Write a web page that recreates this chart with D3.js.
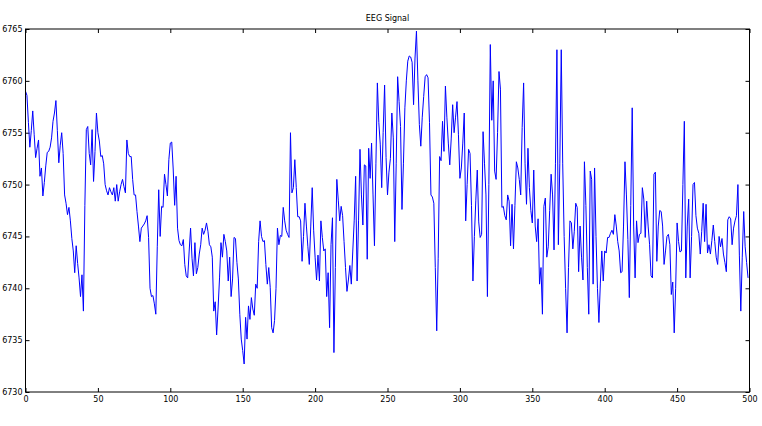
<!DOCTYPE html>
<html>
<head>
<meta charset="utf-8">
<script src="https://cdn.jsdelivr.net/npm/d3@7"></script>
<style>
  body { margin: 0; background: #fff; }
  text { font-family: "DejaVu Sans", sans-serif; }
</style>
</head>
<body>
<div id="chart"></div>
<script>
var width = 762,
	height = 426;

var margin = {top: 29, right: 12.5, bottom: 34, left: 25.5};

var title = "EEG Signal";
var xTicks = [0, 50, 100, 150, 200, 250, 300, 350, 400, 450, 500];
var yTicks = [6730, 6735, 6740, 6745, 6750, 6755, 6760, 6765];

// one value per sample
var signal = [
	6759.0, 6758.6, 6756.0, 6753.6, 6755.2, 6757.1, 6754.8, 6752.6, 6753.5, 6754.3,
	6750.8, 6751.6, 6748.9, 6750.2, 6751.8, 6753.1, 6753.2, 6753.6, 6754.5, 6756.1,
	6756.9, 6758.1, 6755.2, 6752.1, 6753.8, 6755.0, 6753.0, 6749.0, 6748.2, 6747.1,
	6747.8, 6746.5, 6744.8, 6743.6, 6741.5, 6744.1, 6742.4, 6741.0, 6739.2, 6741.3,
	6737.8, 6748.0, 6755.3, 6755.6, 6753.0, 6751.9, 6755.3, 6750.3, 6753.2, 6756.9,
	6755.0, 6754.2, 6752.7, 6752.8, 6752.0, 6750.0, 6749.4, 6749.0, 6749.7, 6749.3,
	6749.0, 6749.7, 6748.4, 6750.0, 6748.4, 6749.3, 6750.0, 6750.5, 6749.8, 6749.2,
	6754.3, 6753.0, 6752.7, 6752.7, 6750.5, 6749.0, 6749.0, 6747.4, 6746.0, 6744.5,
	6745.8, 6746.0, 6746.2, 6746.5, 6747.0, 6744.9, 6740.0, 6739.2, 6739.3, 6738.5,
	6737.5, 6744.0, 6749.5, 6745.0, 6747.9, 6747.8, 6751.0, 6750.0, 6748.9, 6752.4,
	6754.0, 6754.1, 6751.5, 6748.0, 6750.8, 6745.8, 6744.6, 6744.2, 6744.1, 6744.7,
	6742.3, 6741.2, 6741.0, 6743.5, 6745.8, 6742.9, 6741.2, 6744.4, 6741.4, 6742.0,
	6743.3, 6744.2, 6745.8, 6745.2, 6745.6, 6746.3, 6745.5, 6744.2, 6744.0, 6743.0,
	6737.8, 6738.7, 6735.5, 6738.1, 6741.0, 6744.4, 6743.0, 6745.2, 6744.5, 6743.6,
	6740.7, 6743.0, 6739.2, 6740.9, 6744.9, 6744.8, 6742.5, 6740.9, 6737.5, 6735.1,
	6734.0, 6732.7, 6737.2, 6735.1, 6738.3, 6737.0, 6739.1, 6738.0, 6737.4, 6740.4,
	6740.0, 6744.5, 6746.5, 6745.0, 6744.5, 6744.6, 6742.3, 6740.4, 6742.0, 6740.1,
	6736.2, 6735.7, 6736.9, 6740.0, 6745.8, 6744.2, 6745.1, 6745.0, 6747.8, 6746.5,
	6745.6, 6745.2, 6744.9, 6755.0, 6749.2, 6749.7, 6752.4, 6749.7, 6746.9, 6746.9,
	6746.5, 6742.6, 6745.0, 6748.2, 6746.0, 6744.0, 6742.3, 6746.0, 6749.7, 6745.6,
	6743.0, 6740.8, 6743.2, 6740.7, 6746.5, 6744.9, 6743.6, 6743.8, 6739.2, 6741.5,
	6736.2, 6744.2, 6746.8, 6733.8, 6742.0, 6750.5, 6748.5, 6746.5, 6747.9, 6747.0,
	6744.5, 6742.0, 6739.7, 6740.8, 6742.2, 6740.4, 6743.5, 6746.5, 6750.8, 6740.7,
	6746.5, 6753.4, 6749.0, 6746.1, 6751.9, 6751.8, 6742.8, 6753.5, 6750.6, 6754.0,
	6749.0, 6744.1, 6752.0, 6759.8, 6756.0, 6753.9, 6749.7, 6755.0, 6759.6, 6752.6,
	6749.0, 6751.2, 6752.5, 6756.9, 6754.5, 6744.5, 6752.0, 6760.4, 6758.0, 6755.6,
	6747.6, 6752.0, 6757.4, 6760.0, 6761.9, 6762.4, 6762.3, 6761.8, 6757.7, 6762.2,
	6764.8, 6760.0, 6755.8, 6753.7, 6756.5, 6758.5, 6760.4, 6760.6, 6760.3, 6756.0,
	6749.0, 6748.8, 6748.2, 6742.0, 6735.9, 6742.9, 6752.7, 6752.3, 6756.1, 6753.2,
	6759.5, 6756.5, 6754.0, 6751.9, 6754.4, 6757.7, 6755.0, 6756.5, 6758.0, 6754.8,
	6750.6, 6751.6, 6754.0, 6756.9, 6746.5, 6750.0, 6753.4, 6753.0, 6748.0, 6740.7,
	6745.0, 6748.5, 6751.4, 6746.4, 6744.9, 6745.2, 6755.1, 6752.0, 6749.0, 6739.2,
	6750.0, 6763.5, 6756.2, 6760.0, 6751.3, 6750.5, 6755.0, 6760.9, 6759.2, 6747.8,
	6747.9, 6747.0, 6746.6, 6749.0, 6748.4, 6744.1, 6748.1, 6743.8, 6748.0, 6752.2,
	6751.6, 6750.5, 6749.0, 6755.5, 6759.8, 6752.0, 6748.1, 6753.5, 6749.7, 6747.5,
	6746.3, 6751.4, 6746.0, 6744.5, 6746.7, 6740.4, 6742.0, 6737.5, 6747.9, 6748.7,
	6743.0, 6744.0, 6747.5, 6751.0, 6749.0, 6743.7, 6752.0, 6763.0, 6744.2, 6752.0,
	6763.0, 6752.0, 6745.0, 6740.0, 6735.7, 6742.0, 6746.5, 6746.3, 6743.8, 6745.5,
	6748.2, 6747.8, 6741.6, 6746.0, 6743.0, 6740.8, 6752.2, 6748.0, 6742.0, 6737.5,
	6751.3, 6750.5, 6740.4, 6751.6, 6745.0, 6740.0, 6736.7, 6740.5, 6743.6, 6740.7,
	6743.6, 6743.4, 6744.9, 6744.9, 6745.3, 6745.6, 6745.2, 6747.1, 6746.0, 6744.5,
	6743.6, 6741.5, 6741.6, 6746.0, 6752.2, 6749.0, 6744.7, 6739.1, 6748.0, 6757.4,
	6746.0, 6741.0, 6746.5, 6744.4, 6745.2, 6745.3, 6749.7, 6748.6, 6744.9, 6748.4,
	6746.0, 6744.2, 6741.2, 6741.0, 6751.0, 6751.2, 6742.6, 6746.0, 6747.5, 6747.4,
	6746.0, 6742.3, 6743.6, 6745.0, 6745.2, 6744.2, 6739.4, 6740.6, 6735.7, 6740.0,
	6746.3, 6744.5, 6743.5, 6743.6, 6750.0, 6756.1, 6741.0, 6746.0, 6748.6, 6741.0,
	6745.0, 6750.0, 6750.2, 6747.0, 6745.8, 6745.3, 6743.3, 6745.5, 6748.2, 6744.5,
	6748.1, 6743.4, 6744.2, 6743.3, 6744.6, 6746.1, 6744.5, 6743.0, 6742.3, 6745.0,
	6744.0, 6744.8, 6743.3, 6742.5, 6741.6, 6746.6, 6746.9, 6746.7, 6744.2, 6745.8,
	6746.5, 6747.0, 6750.0, 6743.2, 6737.8, 6743.0, 6747.4, 6744.0, 6742.5, 6741.0
];

var innerW = width - margin.left - margin.right,
	innerH = height - margin.top - margin.bottom;

var svg = d3.select("#chart")
	.append("svg")
		.attr("width", width)
		.attr("height", height)
		.style("background-color", "#ffffff")

var g = svg.append("g")
	.attr("transform", "translate(" + margin.left + "," + margin.top + ")")

var x = d3.scaleLinear()
	.domain([0, 500])
	.range([0, innerW])

var y = d3.scaleLinear()
	.domain([6730, 6765])
	.range([innerH, 0])

// ticks point inward, like the classic matplotlib look
var xAxis = d3.axisBottom(x).tickValues(xTicks).tickSize(-4).tickPadding(4).tickFormat(d3.format("d"));
var yAxis = d3.axisLeft(y).tickValues(yTicks).tickSize(-4).tickPadding(3).tickFormat(d3.format("d"));

g.append("g")
	.attr("transform", "translate(0," + innerH + ")")
	.call(xAxis)

g.append("g")
	.call(yAxis)

g.append("g")
	.call(d3.axisTop(x).tickValues(xTicks).tickSize(-4).tickFormat(""))

g.append("g")
	.attr("transform", "translate(" + innerW + ",0)")
	.call(d3.axisRight(y).tickValues(yTicks).tickSize(-4).tickFormat(""))

g.selectAll(".domain").remove();
g.selectAll(".tick line").attr("stroke", "#000").attr("stroke-width", 1);
g.selectAll(".tick text")
	.attr("fill", "#000")
	.style("font-size", "8px")
	.style("font-family", "DejaVu Sans, sans-serif");

var line = d3.line()
	.x(function(d, i){ return x(i); })
	.y(function(d){ return y(d); })

g.append("path")
	.datum(signal)
	.attr("fill", "none")
	.attr("stroke", "#0000ff")
	.attr("stroke-width", 1)
	.attr("stroke-linejoin", "round")
	.attr("d", line)

g.append("rect")
	.attr("x", 0)
	.attr("y", 0)
	.attr("width", innerW)
	.attr("height", innerH)
	.attr("fill", "none")
	.attr("stroke", "#000")
	.attr("stroke-width", 1)

svg.append("text")
	.attr("x", margin.left + innerW / 2)
	.attr("y", 21)
	.attr("text-anchor", "middle")
	.style("font-size", "8px")
	.text(title)
</script>
</body>
</html>
